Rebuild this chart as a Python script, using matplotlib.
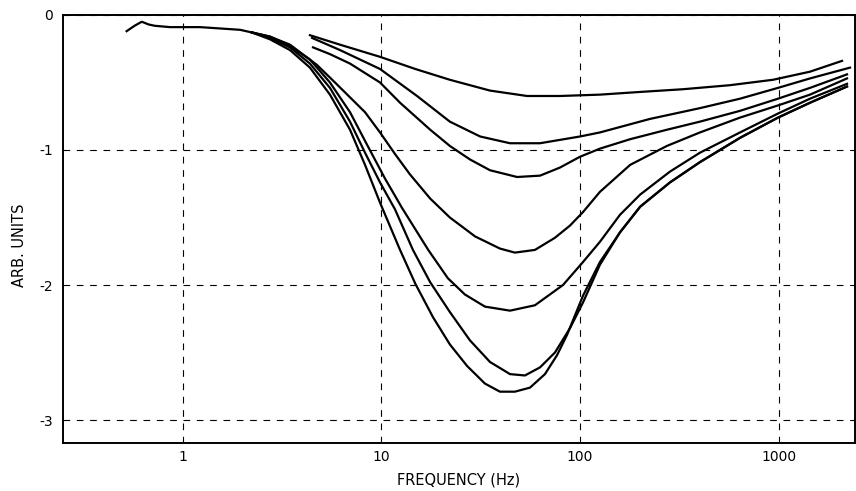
import matplotlib
matplotlib.use('Agg')
import matplotlib.pyplot as plt
from matplotlib import ticker

plt.rcParams['font.family'] = ['DejaVu Sans']
plt.rcParams['axes.unicode_minus'] = False

# shared low-frequency part of the four deepest curves
low_freq = [0.52, 0.57, 0.62, 0.67, 0.72, 0.86, 1.0, 1.22, 1.54, 1.94, 2.23]
low_val = [-0.12, -0.08, -0.05, -0.07, -0.08, -0.09, -0.09, -0.09, -0.10, -0.11, -0.13]

c1_freq = [4.36, 6.18, 9.83, 14.8, 22.1, 35.2, 54.1, 79.3, 126, 201, 330, 570, 938, 1441, 2089]
c1_val = [-0.15, -0.22, -0.31, -0.40, -0.48, -0.56, -0.60, -0.60, -0.59, -0.57, -0.55, -0.52, -0.48, -0.42, -0.34]

c2_freq = [4.47, 6.18, 9.83, 15.1, 22.1, 31.4, 44.4, 62.9, 100, 126, 225, 402, 640, 994, 1441, 2293]
c2_val = [-0.17, -0.26, -0.40, -0.60, -0.79, -0.90, -0.95, -0.95, -0.90, -0.87, -0.77, -0.69, -0.62, -0.54, -0.47, -0.39]

c3_freq = [4.52, 5.50, 6.94, 9.83, 12.4, 17.6, 22.1, 27.9, 35.2, 48.2, 62.9, 79.3, 100, 126, 179, 274, 402, 640, 994, 1441, 2214]
c3_val = [-0.24, -0.29, -0.36, -0.50, -0.65, -0.85, -0.97, -1.07, -1.15, -1.20, -1.19, -1.13, -1.05, -0.99, -0.92, -0.85, -0.79, -0.71, -0.62, -0.54, -0.44]

c4_freq = [2.74, 3.46, 4.73, 5.83, 6.94, 8.26, 9.83, 11.7, 13.9, 17.6, 22.1, 29.6, 39.5, 47.0, 59.3, 74.8, 89.0, 103.5, 126, 179, 274, 402, 640, 994, 1441, 2214]
c4_val = [-0.16, -0.22, -0.37, -0.50, -0.61, -0.72, -0.87, -1.03, -1.18, -1.36, -1.50, -1.64, -1.73, -1.76, -1.74, -1.65, -1.56, -1.46, -1.31, -1.11, -0.97, -0.87, -0.76, -0.67, -0.59, -0.47]

c5_freq = [2.74, 3.46, 4.36, 5.50, 6.94, 8.45, 10.4, 12.7, 17.2, 21.6, 26.3, 33.2, 44.4, 59.3, 82.1, 103.5, 126, 159, 201, 284, 402, 640, 994, 1441, 2214]
c5_val = [-0.16, -0.23, -0.33, -0.50, -0.72, -0.96, -1.21, -1.43, -1.74, -1.95, -2.07, -2.16, -2.19, -2.15, -2.00, -1.83, -1.68, -1.48, -1.33, -1.16, -1.02, -0.87, -0.73, -0.62, -0.51]

c6_freq = [2.74, 3.46, 4.36, 5.50, 6.94, 8.26, 9.83, 11.7, 14.4, 17.6, 22.1, 27.9, 35.2, 44.4, 52.8, 62.9, 74.8, 89.0, 103.5, 126, 159, 201, 284, 402, 640, 994, 1441, 2214]
c6_val = [-0.17, -0.24, -0.36, -0.54, -0.79, -1.02, -1.24, -1.44, -1.74, -1.98, -2.20, -2.41, -2.57, -2.66, -2.67, -2.61, -2.50, -2.32, -2.13, -1.85, -1.61, -1.42, -1.24, -1.09, -0.91, -0.76, -0.65, -0.53]

c7_freq = [2.74, 3.46, 4.36, 5.50, 6.94, 8.26, 9.83, 12.4, 14.8, 18.2, 22.1, 27.0, 33.2, 39.5, 47.0, 56.0, 66.6, 76.6, 86.0, 103.5, 126, 159, 201, 284, 402, 640, 994, 1441, 2214]
c7_val = [-0.18, -0.26, -0.39, -0.59, -0.85, -1.11, -1.39, -1.74, -1.99, -2.24, -2.44, -2.60, -2.73, -2.79, -2.79, -2.76, -2.66, -2.52, -2.37, -2.08, -1.83, -1.61, -1.42, -1.24, -1.09, -0.91, -0.76, -0.65, -0.53]

x_ticks = [1, 10, 100, 1000]
x_ticklabels = ['1', '10', '100', '1000']
y_ticks = [0, -1, -2, -3]
y_ticklabels = ['0', '-1', '-2', '-3']

fig = plt.figure(figsize=(8.56, 4.91), dpi=100)
ax = fig.add_axes([0.0736, 0.0978, 0.9252, 0.8717])

ax.set_xscale('log')
ax.set_xlim(0.2486, 2428)
ax.set_ylim(-3.17, 0)

for s in ax.spines.values():
    s.set_color('black')
    s.set_linewidth(1.4)

ax.grid(True, which='major', color='black', linestyle=(0, (6, 6)), linewidth=0.8)
ax.set_axisbelow(True)

ax.xaxis.set_major_locator(ticker.FixedLocator(x_ticks))
ax.xaxis.set_major_formatter(ticker.FixedFormatter(x_ticklabels))
ax.xaxis.set_minor_locator(ticker.NullLocator())
ax.yaxis.set_major_locator(ticker.FixedLocator(y_ticks))
ax.yaxis.set_major_formatter(ticker.FixedFormatter(y_ticklabels))
ax.tick_params('both', length=0, labelsize=10, colors='black')
ax.tick_params('x', pad=5)
ax.tick_params('y', pad=7)

lw = 1.6
ax.plot(low_freq, low_val, color='black', linewidth=lw)
ax.plot(low_freq[-1:] + c4_freq, low_val[-1:] + c4_val, color='black', linewidth=lw)
ax.plot(low_freq[-1:] + c5_freq, low_val[-1:] + c5_val, color='black', linewidth=lw)
ax.plot(low_freq[-1:] + c6_freq, low_val[-1:] + c6_val, color='black', linewidth=lw)
ax.plot(low_freq[-1:] + c7_freq, low_val[-1:] + c7_val, color='black', linewidth=lw)
ax.plot(c1_freq, c1_val, color='black', linewidth=lw)
ax.plot(c2_freq, c2_val, color='black', linewidth=lw)
ax.plot(c3_freq, c3_val, color='black', linewidth=lw)

ax.set_xlabel('FREQUENCY (Hz)', fontsize=10.5)
ax.set_ylabel('ARB. UNITS', fontsize=10.5)
ax.xaxis.set_label_coords(0.5, -0.068)
ax.yaxis.set_label_coords(-0.045, 0.463)

plt.savefig('out.png', dpi=100)
